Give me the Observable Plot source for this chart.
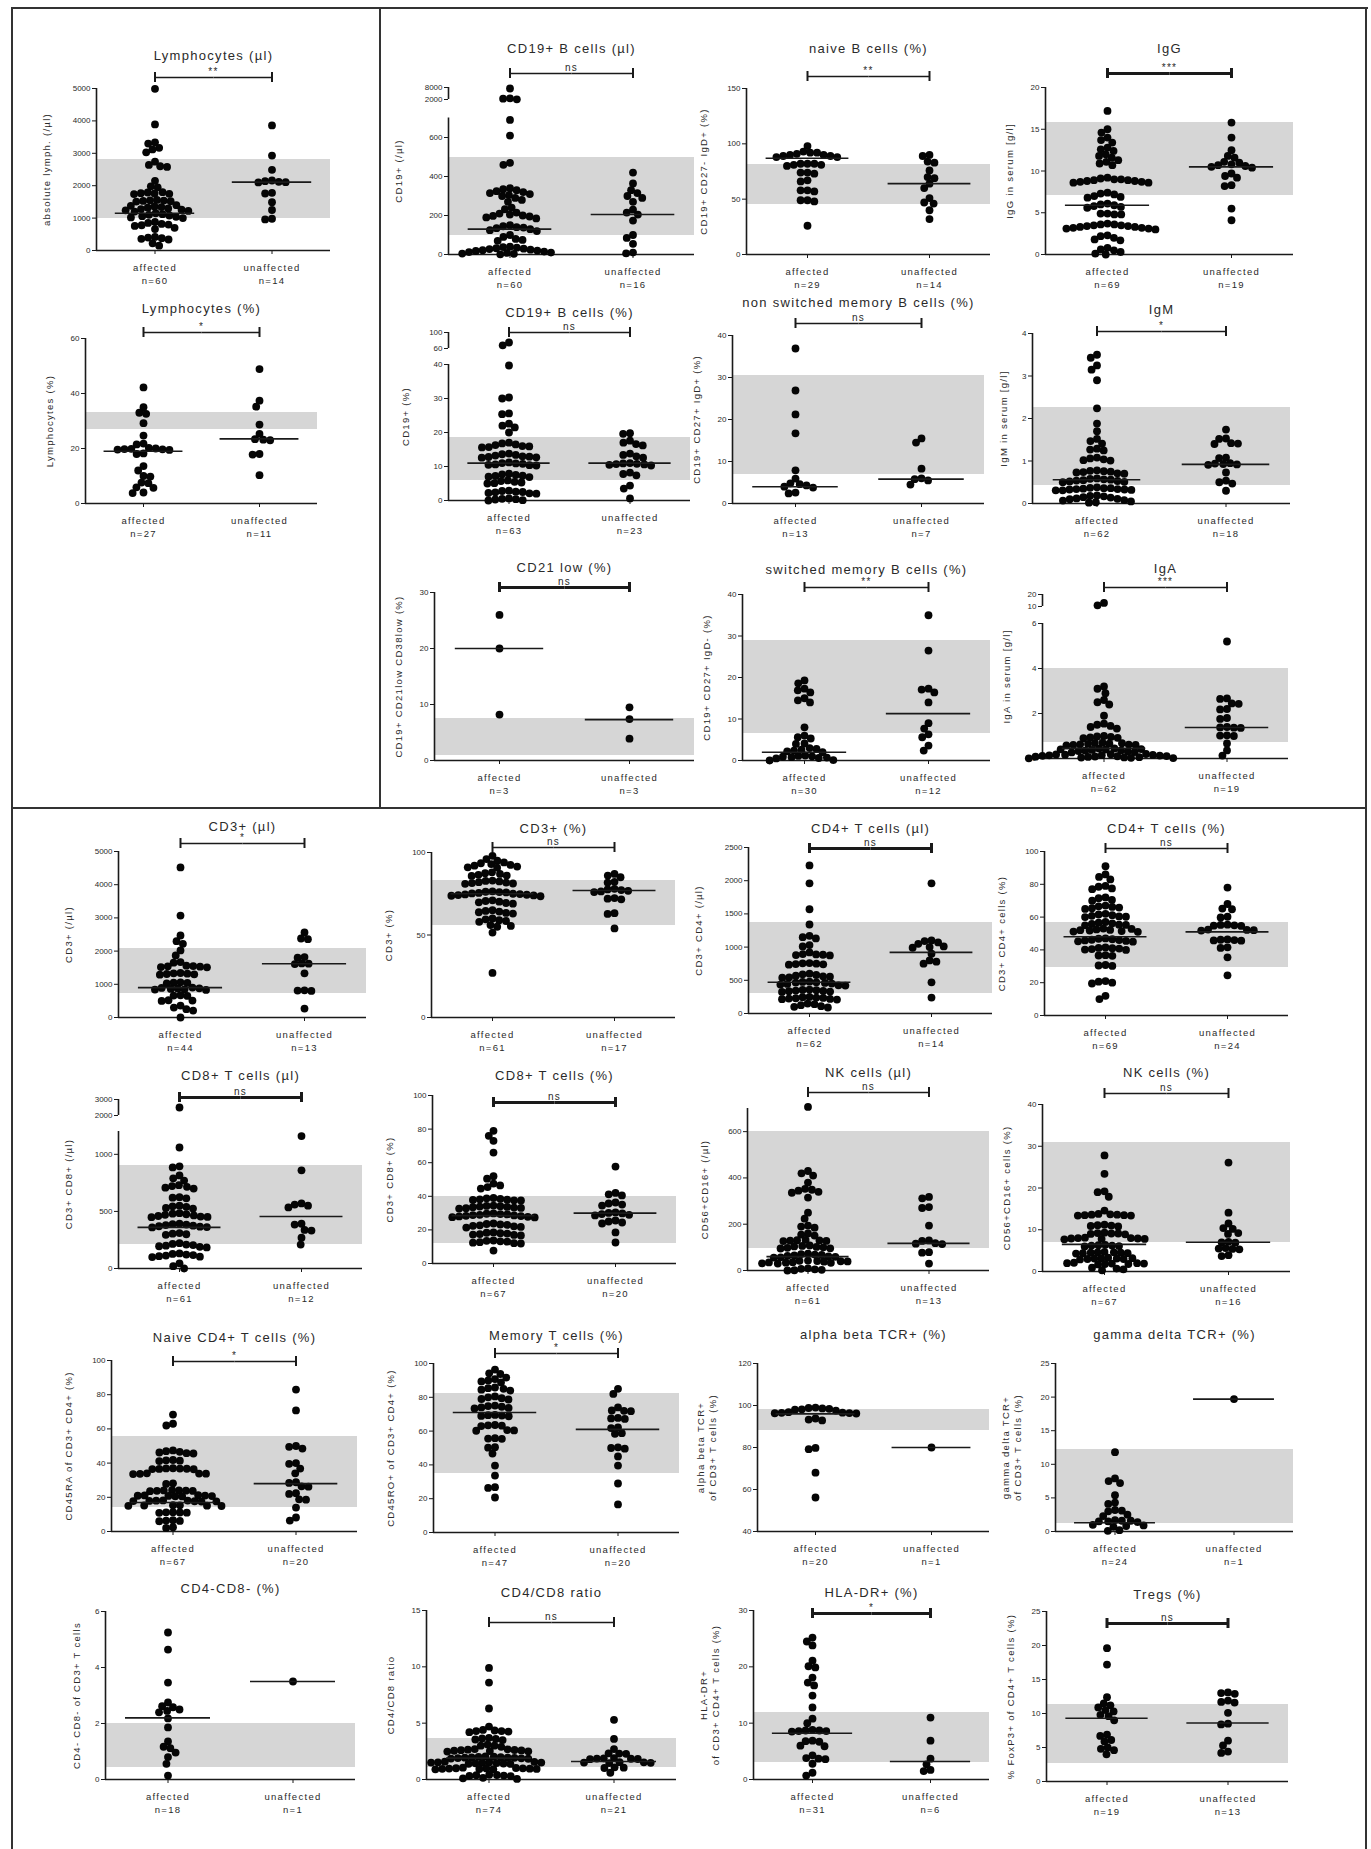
<!DOCTYPE html>
<html><head><meta charset="utf-8">
<script src="https://cdn.jsdelivr.net/npm/d3@7"></script>
<script src="https://cdn.jsdelivr.net/npm/@observablehq/plot@0.6"></script>
<style>
body{margin:0;background:#fff;}
#root{position:relative;width:1371px;height:1849px;overflow:hidden;background:#fff;font-family:"Liberation Sans",Arial,sans-serif;}
.ln{position:absolute;background:#333;}
.pn{position:absolute;}
</style></head>
<body><div id="root"></div>
<script>
const groups = ["affected", "unaffected"];

const titles = ["Lymphocytes (µl)","Lymphocytes (%)","CD19+ B cells (µl)","naive B cells (%)","IgG","CD19+ B cells (%)","non switched memory B cells (%)","IgM","CD21 low (%)","switched memory B cells (%)","IgA","CD3+ (µl)","CD3+ (%)","CD4+ T cells (µl)","CD4+ T cells (%)","CD8+ T cells (µl)","CD8+ T cells (%)","NK cells (µl)","NK cells (%)","Naive CD4+ T cells (%)","Memory T cells (%)","alpha beta TCR+ (%)","gamma delta TCR+ (%)","CD4-CD8- (%)","CD4/CD8 ratio","HLA-DR+ (%)","Tregs (%)"];
const yLabels = ["absolute lymph. (/µl)","Lymphocytes (%)","CD19+ (/µl)","CD19+ CD27- IgD+ (%)","IgG in serum [g/l]","CD19+ (%)","CD19+ CD27+ IgD+ (%)","IgM in serum [g/l]","CD19+ CD21low CD38low (%)","CD19+ CD27+ IgD- (%)","IgA in serum [g/l]","CD3+ (/µl)","CD3+ (%)","CD3+ CD4+ (/µl)","CD3+ CD4+ cells (%)","CD3+ CD8+ (/µl)","CD3+ CD8+ (%)","CD56+CD16+ (/µl)","CD56+CD16+ cells (%)","CD45RA of CD3+ CD4+ (%)","CD45RO+ of CD3+ CD4+ (%)","alpha beta TCR+\nof CD3+ T cells (%)","gamma delta TCR+\nof CD3+ T cells (%)","CD4- CD8- of CD3+ T cells","CD4/CD8 ratio","HLA-DR+\nof CD3+ CD4+ T cells (%)","% FoxP3+ of CD4+ T cells (%)"];
const sigLabels = ["**","*","ns","**","***","ns","ns","*","ns","**","***","*","ns","ns","ns","ns","ns","ns","ns","*","*","","","","ns","*","ns"];
const nAffected = [60,27,60,29,69,63,13,62,3,30,62,44,61,62,69,61,67,61,67,67,47,20,24,18,74,31,19];
const nUnaffected = [14,11,16,14,19,23,7,18,3,12,19,13,17,14,24,12,20,13,16,20,20,1,1,1,21,6,13];
const mediansAffected = [1150,19,130,87,5.9,11,4,0.56,20,2,0.45,900,75,470,48,360,28.5,60,6.5,17,71,96,1.3,2.2,1.9,8.2,9.3];
const mediansUnaffected = [2110,23.5,205,64,10.5,11,5.8,0.92,7.3,11.3,1.38,1620,77,920,51,456,30,117,7,28,61,80,19.7,3.5,1.6,3.2,8.6];
const refLow = [1000,27,100,45,7.1,6,7,0.42,0.9,6.5,0.7,720,56,300,29,210,12,95,7,14,35,88,1.2,0.43,1.07,3,2.6];
const refHigh = [2800,33,500,81,15.8,18.5,30.5,2.26,7.5,29,4,2070,83,1370,57,900,40,600,31,55.5,82,98,12.2,2.0,3.6,11.9,11.3];
const yDomains = [[0,5000],[0,60],[0,700,2000,8000],[0,150],[0,20],[0,40,60,100],[0,40],[0,4],[0,30],[0,40],[0,6,10,20],[0,5000],[0,100],[0,2500],[0,100],[0,1200,2000,3000],[0,100],[0,700],[0,40],[0,100],[0,100],[40,120],[0,25],[0,6],[0,15],[0,30],[0,25]];
const yTicks = [[0,1000,2000,3000,4000,5000],[0,20,40,60],[0,200,400,600,2000,8000],[0,50,100,150],[0,5,10,15,20],[0,10,20,30,40,60,100],[0,10,20,30,40],[0,1,2,3,4],[0,10,20,30],[0,10,20,30,40],[0,2,4,6,10,20],[0,1000,2000,3000,4000,5000],[0,50,100],[0,500,1000,1500,2000,2500],[0,20,40,60,80,100],[0,500,1000,2000,3000],[0,20,40,60,80,100],[0,200,400,600],[0,10,20,30,40],[0,20,40,60,80,100],[0,20,40,60,80,100],[40,60,80,100,120],[0,5,10,15,20,25],[0,2,4,6],[0,5,10,15],[0,10,20,30],[0,5,10,15,20,25]];

const lymphUlAff = [4990,3890,3340,3300,3170,3120,3030,2740,2640,2600,2580,2150,1980,1950,1800,1790,1770,1760,1750,1740,1560,1550,1540,1530,1520,1510,1400,1380,1360,1340,1320,1300,1280,1260,1240,1220,1200,1150,1120,1100,1080,1060,1040,1020,1000,880,850,820,800,780,760,700,660,420,400,380,360,340,220,150];
const lymphUlUnaff = [3860,2930,2490,2160,2140,2120,2110,2100,1780,1760,1490,1250,980,960];
const lymphPctAff = [42.2,35,33,32.6,29.2,24.7,21.8,21.5,20.2,20,19.9,19.8,19.7,19.6,19.5,18.2,18,13.6,12,10,9.8,7.6,7.4,5.9,5.7,4,3.8];
const lymphPctUnaff = [48.9,37.4,35.2,28.7,25.3,23.4,23.2,23,18,17.8,10.3];
const cd19UlAff = [7500,2600,2400,2100,690,610,470,460,340,335,330,325,320,315,310,305,300,290,280,270,240,232,215,210,205,200,198,195,190,185,150,145,140,138,135,130,125,120,100,90,80,75,70,40,38,35,32,30,28,25,22,20,18,15,12,10,8,5,3,1];
const cd19UlUnaff = [420,364,330,315,300,290,270,230,215,205,174,100,85,55,10,6];
const naiveBAff = [98,93,92,92,91,90,90,89,89,88,88,82,82,82,81,81,80,74,74,73,67,66,58,58,57,49,49,48,26];
const naiveBUnaff = [90,89,84,83,76,70,69,64,60,51,47,46,40,32];
const igGAff = [17.2,15,14.6,14,13.7,13.4,12.8,12.6,12.4,12,11.8,11.6,11.3,11.1,10.9,10.7,9.2,9.1,9,9,8.9,8.9,8.8,8.8,8.7,8.7,8.6,8.6,7.4,7.3,7.2,7.0,6.9,6.8,6.1,6.0,5.9,5.8,5.7,5.6,4.9,4.9,4.8,4.8,3.7,3.6,3.6,3.5,3.5,3.4,3.4,3.3,3.3,3.2,3.2,3.1,3.1,3.0,2.3,2.2,2.0,1.8,1.7,0.8,0.6,0.5,0.3,0.1,0];
const igGUnaff = [15.8,14,12.5,11.8,11.6,11.1,11,10.8,10.7,10.6,10.5,10.4,9.7,9.4,9.2,8.3,8.2,5.5,4.1];
const cd19PctAff = [75,68,39.7,30.3,30,25.6,25.4,22.6,22,21.5,20,17,16.8,16.5,16.3,16,15.9,15.7,15.6,13.8,13.6,13.4,13.2,13,12.9,12.8,12.7,12.6,11.2,11,10.9,10.8,10.6,10.5,10.4,10.3,7.9,7.7,7.5,7.3,7.2,7.0,6.9,5.9,5.7,5.5,5.3,5.1,5.0,2.9,2.8,2.6,2.5,2.4,2.2,2.1,2.0,0.6,0.5,0.4,0.3,0.1,0];
const cd19PctUnaff = [19.8,19.6,17.6,17,16.6,16.2,13.8,13.4,13,12.6,11,10.9,10.8,10.7,10.6,10.5,10.3,8.2,7.8,7.4,4.4,3.5,0.6];
const nsmBAff = [36.9,26.9,21.2,16.7,7.9,5.9,4.8,4.6,4.3,4.0,3.8,2.6,2.4];
const nsmBUnaff = [15.5,14.5,8.3,6.0,5.8,5.5,4.5];
const igMAff = [3.5,3.43,3.25,3.15,2.9,2.24,1.88,1.7,1.52,1.47,1.41,1.29,1.27,1.25,1.08,1.06,1.04,1.02,1.01,0.78,0.77,0.76,0.75,0.74,0.73,0.71,0.70,0.59,0.58,0.57,0.56,0.55,0.54,0.53,0.52,0.51,0.50,0.38,0.37,0.36,0.36,0.35,0.34,0.34,0.33,0.33,0.32,0.31,0.31,0.19,0.18,0.17,0.15,0.14,0.12,0.11,0.1,0.08,0.07,0.05,0.03,0.02];
const igMUnaff = [1.74,1.53,1.52,1.42,1.41,1.4,1.08,1.07,0.95,0.94,0.93,0.92,0.91,0.73,0.54,0.5,0.47,0.3];
const cd21lowAff = [26,20,8.2];
const cd21lowUnaff = [9.5,7.4,3.9];
const smBAff = [19.3,18.6,17.3,16.9,16.4,15,14.5,14,8,6,5.6,5.3,4.1,4.0,3.0,2.8,2.6,2.4,2.2,2.0,1.2,1.1,1.0,0.9,0.8,0.7,0.6,0.5,0.1,0];
const smBUnaff = [35,26.5,17.3,17.1,16.4,14,9,7.7,6.3,5.6,3.6,2.4];
const igAAff = [13,11,3.2,3.1,2.9,2.6,2.5,2.4,1.9,1.55,1.5,1.45,1.4,1.33,1.0,0.98,0.96,0.94,0.92,0.9,0.7,0.69,0.68,0.66,0.65,0.63,0.62,0.61,0.6,0.58,0.45,0.44,0.42,0.41,0.4,0.38,0.36,0.35,0.33,0.31,0.29,0.27,0.2,0.19,0.18,0.17,0.16,0.15,0.14,0.13,0.12,0.11,0.1,0.09,0.08,0.07,0.06,0.05,0.04,0.03,0.02,0.01];
const igAUnaff = [5.2,2.67,2.65,2.45,2.43,2.2,2.18,1.8,1.76,1.4,1.38,1.37,1.36,1.03,1.02,1.0,0.67,0.36,0.13];
const cd3UlAff = [4520,3070,2470,2300,2220,2020,1870,1670,1650,1560,1550,1540,1530,1520,1510,1340,1330,1320,1310,1300,1290,1060,1050,1040,1030,900,890,880,870,860,850,840,830,670,660,650,520,510,500,360,300,250,210,0];
const cd3UlUnaff = [2560,2380,2360,1820,1800,1630,1620,1610,1330,820,810,800,270];
const cd3PctAff = [98,96,95,93,94,93.5,92.5,92,91.5,91,90.8,88,87.5,87,86.5,86,85.8,83,82.8,82.5,82,81.8,81.5,81.2,81,76.5,76.2,76,75.8,75.5,75.2,75,74.8,74.6,74.4,74.2,74,73.8,73.5,71,70.6,70.2,69.8,69.4,69,65,64.6,64.2,63.8,63.4,63,60,59.5,59,58.5,58,56,55.5,55,51.5,27];
const cd3PctUnaff = [87,86,85,82.2,81.8,78,77.6,77.2,76.8,76.4,76,72.4,72,71.6,63.2,62.8,54];
const cd4UlAff = [2230,1960,1570,1340,1170,1150,1130,1030,1010,920,895,890,885,880,875,760,755,750,745,740,735,600,590,580,570,560,555,545,540,480,475,470,465,460,450,445,435,425,420,360,355,350,345,340,335,330,325,250,245,240,235,230,225,220,215,210,150,140,125,110,100,90];
const cd4UlUnaff = [1960,1100,1090,1070,1050,1010,1000,990,900,800,780,750,470,240];
const cd4PctAff = [91,86,84.5,83,79,78.5,77.5,77,72,71.5,70.5,70,67,66.6,66.2,65.8,65.4,65,62,61.6,61.2,60.8,60.4,60.2,60,57,56.6,56.2,55.8,55.4,55.2,55,53,52.8,52.5,52.2,52,51.8,51.5,51.2,51,47,46.8,46.5,46.2,46,45.8,45.5,45.2,45,41.5,41.2,41,40.8,40.5,40.2,40,36.8,36.6,36.4,30.8,30.5,30.2,21,20.6,20,19.5,12,10];
const cd4PctUnaff = [78,68,65.2,64.8,60.2,59.8,55.4,55.2,55,54.8,54.6,52.4,52.2,52,51.8,46.4,46.2,46,45.8,45.6,41.6,41.2,35.5,24.5];
const cd8UlAff = [2500,1060,895,885,815,790,770,730,722,715,708,700,625,620,615,550,545,540,530,525,485,480,475,470,465,460,455,452,450,392,388,385,380,375,370,366,363,360,310,305,300,295,222,215,210,205,200,195,190,185,132,128,122,118,113,108,104,100,45,20,0];
const cd8UlUnaff = [1160,860,570,560,550,535,392,385,338,332,270,210];
const cd8PctAff = [79,76,73,66,52,50.5,47.6,46.5,45.5,44.6,39,38.8,38.5,38.2,38,37.8,37.6,37.5,34.5,34.3,34.1,33.9,33.7,33.5,33.3,33.1,32.9,32.7,29.8,29.6,29.4,29.2,29,28.8,28.6,28.4,28.2,28,27.8,27.6,27.4,23.8,23.5,23.2,23,22.7,22.4,22.1,21.8,21.4,18.5,18.3,18,17.8,17.5,17.2,17,16.7,13.7,13.5,13.2,13,12.7,12.4,12.1,11.9,7.7];
const cd8PctUnaff = [57.7,42,41.2,40.5,36.3,35.7,35.1,34.5,30.4,30.1,29.8,29.4,29,28.6,25.6,25,24.4,23.8,18.5,12.5];
const nkUlAff = [707,430,420,410,380,353,349,345,340,336,315,250,224,194,190,185,160,155,151,132,131,130,129,128,127,108,106,104,102,100,98,96,95,73,71,69,67,65,63,61,59,57,56,43,42,41,40,39,38,36,35,34,33,31,30,9,7,5,3,1,0];
const nkUlUnaff = [318,312,274,270,194,130,128,118,116,114,79,77,30];
const nkPctAff = [27.8,23.4,19.2,19,17.9,14.6,13.8,13.7,13.6,13.6,13.5,13.5,13.4,13.4,11.2,11.1,11,10.9,10.8,9.3,9.2,9.1,9.1,9,8.9,8.1,8,8,7.9,7.9,7.8,7.8,7.7,6.4,6.3,6.2,6.2,6.1,6,4.7,4.6,4.6,4.5,4.5,4.4,4.4,4.3,3.3,3.2,3.2,3.1,3.1,3.0,3.0,2.9,2.1,2.0,2.0,1.9,1.9,1.8,1.8,1.7,0.9,0.7,0.5,0.3];
const nkPctUnaff = [26.1,14.1,11.5,10.4,10.2,9.2,9.0,7.1,7.0,6.9,5.6,5.5,5.4,5.3,3.9,3.7];
const naiveCd4Aff = [68.4,63,62,47.4,47,46.6,46.2,45.8,45.6,41.8,41.6,41.4,41.2,37,36.9,36.8,36.7,36.6,36.5,36.4,34,33.9,33.8,33.7,33.6,28.2,27.8,24.2,24.1,24,23.9,23.8,23.7,23.6,21.2,21.1,21,20.9,20.8,20.7,20.6,20.5,18.2,18.1,18,17.9,17.8,17.7,17.6,17.5,15.4,15.3,15.2,15.1,15,14.9,11.3,11.2,11.1,11,10.9,6.6,6.4,6.2,6,2.5,2.1];
const naiveCd4Unaff = [83,70.8,50,49.5,48.5,40,39.6,36.8,34,28.8,28.4,26.4,26.2,22.4,22,18.8,18.6,14,8.2,6.4];
const memoryTAff = [96.4,94.2,93.8,91.7,90.8,90,89.4,88.8,85.8,85.4,85,84.5,84,80.5,80,79.5,79,78.7,75.1,74.8,74.4,74,73.7,73.4,69.6,69.4,69.2,69,68.8,63.6,63.4,63.2,63,60.6,60.4,60.2,55.8,55.6,55.4,50.5,50.2,46.7,39.6,33.7,26.8,26.4,20.7];
const memoryTUnaff = [85,82,74,72.2,72,71.8,67.8,67.5,67.2,62.2,61.8,58.8,58.4,50.4,50,49.6,45,39.6,29,16.6];
const abTcrAff = [99,98.8,98.6,98.4,98.2,98,97.6,96.8,96.6,96.5,96.4,96.3,96.2,93.8,93.3,92.9,79.8,79.2,68,56.2];
const abTcrUnaff = [80];
const gdTcrAff = [11.8,7.9,7.5,7.2,5.4,4.3,4.1,3.2,3.1,3.0,2.5,2.3,1.7,1.6,1.6,1.5,1.5,1.4,1.0,0.9,0.8,0.7,0.2,0.1];
const gdTcrUnaff = [19.7];
const dnTAff = [5.25,4.64,3.46,2.75,2.62,2.58,2.5,2.45,2.4,2.18,1.86,1.36,1.17,1.12,0.96,0.8,0.56,0.14];
const dnTUnaff = [3.5];
const cd4cd8Aff = [9.9,8.6,6.3,4.7,4.4,4.35,4.3,4.3,4.25,4.2,3.7,3.65,3.6,3.55,3.5,3.1,3.0,3.0,2.9,2.7,2.68,2.65,2.62,2.6,2.58,2.55,2.52,2.5,2.48,2.05,2.02,2.0,1.98,1.96,1.95,1.94,1.92,1.9,1.88,1.86,1.84,1.58,1.56,1.54,1.52,1.5,1.5,1.48,1.46,1.44,1.42,1.4,1.38,1.05,1.02,1.0,0.99,0.98,0.97,0.96,0.95,0.94,0.93,0.92,0.9,0.42,0.4,0.38,0.35,0.32,0.3,0.15,0.1,0.05];
const cd4cd8Unaff = [5.3,3.6,2.7,2.32,2.3,2.28,1.9,1.88,1.86,1.84,1.82,1.8,1.54,1.52,1.5,1.48,1.46,1.08,1.05,1.02,0.6];
const hlaDrAff = [25.2,24.5,23.8,21.1,20.1,19.9,18.1,17.2,16.7,14.9,12.8,10.8,10,8.8,8.7,8.7,8.6,8.6,8.5,6.9,6.8,6.7,6.0,5.9,4.3,3.8,3.7,3.6,2.8,1.2,0.7];
const hlaDrUnaff = [11,6.9,3.7,2.7,1.7,1.5];
const tregsAff = [19.6,17.2,12.4,11.5,11.2,10.9,10.5,10.3,9.8,9.6,9,6.9,6.7,6.1,5.9,5.0,4.8,4.6,4.0];
const tregsUnaff = [13.1,13.0,12.9,11.9,11.7,11.6,10.1,8.5,8.4,6.0,5.3,4.4,4.2];

const affectedValues = [lymphUlAff,lymphPctAff,cd19UlAff,naiveBAff,igGAff,cd19PctAff,nsmBAff,igMAff,cd21lowAff,smBAff,igAAff,cd3UlAff,cd3PctAff,cd4UlAff,cd4PctAff,cd8UlAff,cd8PctAff,nkUlAff,nkPctAff,naiveCd4Aff,memoryTAff,abTcrAff,gdTcrAff,dnTAff,cd4cd8Aff,hlaDrAff,tregsAff];
const unaffectedValues = [lymphUlUnaff,lymphPctUnaff,cd19UlUnaff,naiveBUnaff,igGUnaff,cd19PctUnaff,nsmBUnaff,igMUnaff,cd21lowUnaff,smBUnaff,igAUnaff,cd3UlUnaff,cd3PctUnaff,cd4UlUnaff,cd4PctUnaff,cd8UlUnaff,cd8PctUnaff,nkUlUnaff,nkPctUnaff,naiveCd4Unaff,memoryTUnaff,abTcrUnaff,gdTcrUnaff,dnTUnaff,cd4cd8Unaff,hlaDrUnaff,tregsUnaff];

// ---- layout (page pixels): y-axis x, frame right, title y, bracket y, pixel of each y-domain stop
const layout = [
  {ax:95,rx:330,ty:55,by:77,py:[250,88]},
  {ax:85,rx:317,ty:308,by:332,py:[503,338]},
  {ax:448,rx:694,ty:48,by:73,py:[254,117.5,99,87]},
  {ax:745,rx:990,ty:48,by:76,py:[254,88]},
  {ax:1044,rx:1293,ty:48,by:73,py:[254,87],bold:true},
  {ax:448,rx:690,ty:312,by:332,py:[500,364,348,332]},
  {ax:731,rx:984,ty:302,by:323,py:[503,335]},
  {ax:1031,rx:1290,ty:309,by:331,py:[503,333]},
  {ax:434,rx:694,ty:567,by:587,py:[760,592],bold:true},
  {ax:742,rx:990,ty:569,by:587,py:[760,594]},
  {ax:1041,rx:1288,ty:568,by:587,py:[758,623,606,594]},
  {ax:117,rx:366,ty:826,by:843,py:[1017,851]},
  {ax:431,rx:675,ty:828,by:847,py:[1017,852]},
  {ax:747,rx:992,ty:828,by:848,py:[1013,847],bold:true},
  {ax:1044,rx:1288,ty:828,by:848,py:[1015,851]},
  {ax:118,rx:362,ty:1075,by:1097,py:[1268,1131,1115,1099],bold:true},
  {ax:431,rx:676,ty:1075,by:1102,py:[1263,1095],bold:true},
  {ax:746,rx:989,ty:1072,by:1092,py:[1270,1108]},
  {ax:1042,rx:1290,ty:1072,by:1093,py:[1271,1104]},
  {ax:111,rx:357,ty:1337,by:1361,py:[1531,1360]},
  {ax:432,rx:679,ty:1335,by:1353,py:[1532,1363]},
  {ax:757,rx:989,ty:1334,by:null,py:[1531,1363]},
  {ax:1055,rx:1293,ty:1334,by:null,py:[1531,1363]},
  {ax:105,rx:355,ty:1588,by:null,py:[1779,1611]},
  {ax:426,rx:676,ty:1592,by:1622,py:[1779,1610]},
  {ax:753,rx:989,ty:1592,by:1613,py:[1779,1610],bold:true},
  {ax:1046,rx:1288,ty:1594,by:1623,py:[1781,1611],bold:true}
];

const root = document.getElementById("root");
function line(l, t, w, h) {
  const d = document.createElement("div");
  d.className = "ln";
  Object.assign(d.style, {left: l + "px", top: t + "px", width: w + "px", height: h + "px"});
  root.appendChild(d);
}
line(11, 7, 1357, 2);
line(11, 7, 2, 1842);
line(1365, 7, 2, 1842);
line(11, 807, 1356, 2);
line(379, 7, 2, 801);

const INK = "#1a1a1a";
const TXT = "#2a2a2a";

function drawPanel(i) {
  const L = layout[i];
  const ML = 90, MR = 12, MB = 46;
  const boxLeft = L.ax - ML, boxTop = L.ty - 14;
  const W = L.rx - L.ax + ML + MR;
  const H = L.py[0] - boxTop + MB;
  const dom = yDomains[i];
  const broken = dom.length === 4;
  const range = L.py.map(p => p - boxTop);
  const ys = d3.scaleLinear(dom, range); // value <-> svg pixel (used to place annotations)
  const fw = (L.rx - L.ax) / 2;
  const [A, U] = groups;
  const lo = dom[0];
  const rows = affectedValues[i].map(v => ({g: A, v})).concat(unaffectedValues[i].map(v => ({g: U, v})));
  const segs = broken ? [[dom[0], dom[1]], [dom[2], dom[3]]] : [[dom[0], dom[1]]];
  const sw = 1.6;
  const maxLen = d3.max(yTicks[i], t => String(t).length);
  const twoLine = yLabels[i].includes("\n");
  const off = 22 + 7 * maxLen + (twoLine ? 8 : 0);
  const pxToX = px => px * 2 / fw;
  const midPx = (L.py[0] + L.py[L.py.length - 1]) / 2 - boxTop;
  const n = {affected: nAffected[i], unaffected: nUnaffected[i]};

  // broken axes: a piecewise transform of the values onto a linear scale
  let yOpt;
  if (broken) {
    const brk = d3.scaleLinear(dom, range);
    yOpt = {transform: v => brk(v), domain: [range[0], range[3]], range: [range[0], range[3]], axis: null};
  } else {
    yOpt = {domain: dom, range, axis: null};
  }

  const marks = [
    Plot.rect(groups, {fx: d => d, x1: -1, x2: 1, y1: refLow[i], y2: refHigh[i], fill: "#d6d6d6", shapeRendering: "crispEdges"}),
    Plot.ruleY([lo], {stroke: INK, strokeWidth: sw}),
    Plot.ruleX(segs, {fx: () => A, x: -1, y1: d => d[0], y2: d => d[1], stroke: INK, strokeWidth: sw}),
    Plot.axisY(yTicks[i], {anchor: "left", tickSize: 4, tickPadding: 2, fontSize: 8, tickFormat: d => String(d), label: null, stroke: INK, fill: TXT}),
    Plot.axisFx({anchor: "bottom", tickSize: 4, tickPadding: 7, fontSize: 9.5, lineHeight: 1.4, label: null, tickFormat: g => `${g}\nn=${n[g]}`, stroke: INK, fill: TXT}),
    Plot.text([A], {fx: d => d, x: -1 - pxToX(off), y: ys.invert(midPx), text: () => yLabels[i], rotate: -90, fontSize: 9.5, lineHeight: 1.2, fill: TXT}),
    Plot.text([A], {fx: d => d, x: 1, y: ys.invert(L.ty - boxTop), text: () => titles[i], fontSize: 13, fill: TXT}),
    Plot.dot(rows, Plot.dodgeX({anchor: "middle", padding: -0.9}, {fx: "g", y: "v", r: 3.9, fill: "#050505"})),
    Plot.ruleY([{g: A, v: mediansAffected[i]}, {g: U, v: mediansUnaffected[i]}], {fx: "g", y: "v", insetLeft: fw * 0.16, insetRight: fw * 0.16, stroke: INK, strokeWidth: sw})
  ];
  if (L.by != null) {
    const bw = L.bold ? 3 : sw;
    const bv = ys.invert(L.by - boxTop);
    const c1 = ys.invert(L.by - boxTop - 5), c2 = ys.invert(L.by - boxTop + 5);
    marks.push(Plot.link(groups, {fx: d => d, x1: d => d === A ? 0 : -1, x2: d => d === A ? 1 : 0, y1: bv, y2: bv, stroke: INK, strokeWidth: bw}));
    marks.push(Plot.ruleX(groups, {fx: d => d, x: 0, y1: c1, y2: c2, stroke: INK, strokeWidth: Math.max(bw, 2)}));
    marks.push(Plot.text([A], {fx: d => d, x: 1, y: ys.invert(L.by - boxTop - 6), text: () => sigLabels[i], fontSize: 10, fill: TXT}));
  }

  const svg = Plot.plot({
    width: W, height: H,
    marginLeft: ML, marginRight: MR, marginTop: 0, marginBottom: MB,
    fx: {domain: groups, padding: 0, label: null, axis: null},
    x: {domain: [-1, 1], axis: null},
    y: yOpt,
    style: {background: "transparent", overflow: "visible", fontFamily: "Liberation Sans, Arial, sans-serif", letterSpacing: "1.3px", color: TXT},
    marks
  });
  d3.select(svg).selectAll('g[aria-label="y-axis tick label"]').style("letter-spacing", "0px");
  const holder = document.createElement("div");
  holder.className = "pn";
  holder.style.left = boxLeft + "px";
  holder.style.top = boxTop + "px";
  holder.appendChild(svg);
  root.appendChild(holder);
}

for (let i = 0; i < titles.length; i++) drawPanel(i);
</script>
</body></html>
